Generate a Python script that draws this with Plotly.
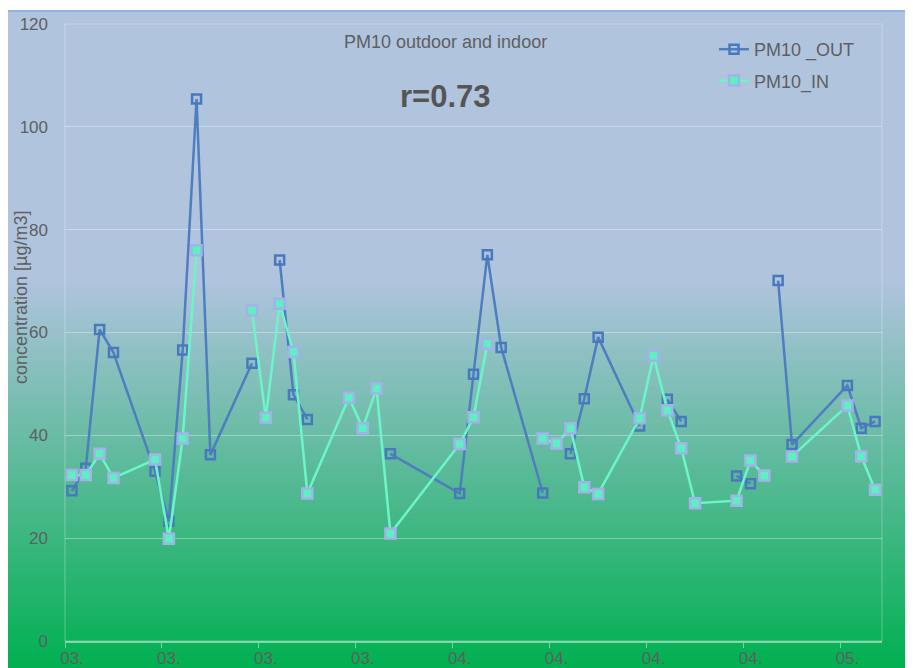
import plotly.graph_objects as go

# ---------------- data ----------------
days = [0, 1, 2, 3, 6, 7, 8, 9, 10, 13, 14, 15, 16, 17, 20, 21, 22, 23,
        28, 29, 30, 31, 34, 35, 36, 37, 38, 41, 42, 43, 44, 45, 48, 49, 50,
        51, 52, 56, 57, 58]
pm10_out = [29.2, 33.6, 60.6, 56.1, 33.0, 23.3, 56.6, 105.4, 36.2, 54.0,
            None, 74.1, 47.9, 43.1, None, None, None, 36.4,
            28.7, 51.9, 75.1, 57.1, 28.8, None, 36.4, 47.1, 59.1,
            41.8, None, 47.0, 42.7, None, 32.1, 30.6, None,
            70.1, 38.2, 49.7, 41.4, 42.7]
pm10_in = [32.3, 32.3, 36.4, 31.7, 35.3, 19.9, 39.4, 76.0, None, 64.3,
           43.4, 65.6, 56.2, 28.7, 47.3, 41.4, 49.1, 20.9,
           38.3, 43.5, 57.8, None, 39.4, 38.4, 41.4, 29.9, 28.6,
           43.3, 55.5, 44.9, 37.5, 26.8, 27.3, 35.1, 32.2,
           None, 35.9, 45.8, 35.9, 29.4]
tick_positions = [-0.5, 6.5, 13.5, 20.5, 27.5, 34.5, 41.5, 48.5, 55.5]
tick_labels = ["03.", "03.", "03.", "03.", "04.", "04.", "04.", "04.", "05."]
series_names = ["PM10 _OUT", "PM10_IN"]
chart_title = "PM10 outdoor and indoor"
r_text = "r=0.73"
y_title = "concentration [µg/m3]"

# ---------------- layout geometry ----------------
W, H = 913, 668
OFF = 8  # page body margin offset in the screenshot
# plot area in screenshot pixels
L, R, T, B = 65, 882, 24, 641
pw, ph = R - L, B - T


def px_x(p):
    return (p - L) / pw


def px_y(p):
    return (B - p) / ph


FONT = "Arial, Liberation Sans, sans-serif"
GRAY = "#5f5f5f"

# gradient background (blue-grey top to green bottom)
top_c = (176, 196, 222)
bot_c = (0, 176, 80)
g_start, g_end = 280, 668
shapes = []
step = 2
for yy in range(11, 680, step):
    f = min(max((yy + step / 2 - g_start) / (g_end - g_start), 0), 1)
    c = tuple(round(top_c[i] + (bot_c[i] - top_c[i]) * f) for i in range(3))
    shapes.append(dict(type="rect", xref="paper", yref="paper", layer="below",
                       x0=px_x(6), x1=px_x(W + 20),
                       y0=px_y(yy + step + 2), y1=px_y(yy),
                       fillcolor="rgb(%d,%d,%d)" % c, line=dict(width=0)))
# outer chart border
shapes.append(dict(type="rect", xref="paper", yref="paper", layer="below",
                   x0=px_x(6), x1=px_x(W + 20), y0=px_y(H + 20), y1=px_y(11),
                   fillcolor="rgba(0,0,0,0)", line=dict(color="#8db4e2", width=2)))
# plot area border
shapes.append(dict(type="rect", xref="paper", yref="paper", layer="below",
                   x0=0, x1=1, y0=0, y1=1, fillcolor="rgba(0,0,0,0)",
                   line=dict(color="rgba(255,255,255,0.3)", width=1)))

fig = go.Figure()
fig.add_trace(go.Scatter(
    x=days, y=pm10_out, name=series_names[0], mode="lines+markers",
    connectgaps=False, legendgroup="a",
    line=dict(color="#4f7ec0", width=2.5),
    marker=dict(symbol="square-open", size=9, color="#4a78bd",
                line=dict(color="#4a78bd", width=2.5)),
))
fig.add_trace(go.Scatter(
    x=days, y=pm10_in, name=series_names[1], mode="lines+markers",
    connectgaps=False, legendgroup="b",
    line=dict(color="#6cf5c8", width=2.5),
    marker=dict(symbol="square", size=10, color="#5cf2bf",
                line=dict(color="#a2b2ea", width=2.5)),
))

fig.update_layout(
    width=W, height=H,
    margin=dict(l=L - OFF, r=W - (R - OFF), t=T - OFF, b=H - (B - OFF), pad=0,
                autoexpand=False),
    paper_bgcolor="white", plot_bgcolor="rgba(0,0,0,0)",
    font=dict(family=FONT, color=GRAY, size=17),
    shapes=shapes,
    showlegend=True,
    legend=dict(x=px_x(714), y=px_y(31), xanchor="left", yanchor="top",
                bgcolor="rgba(0,0,0,0)", font=dict(size=18, color=GRAY),
                tracegroupgap=5, itemwidth=30),
    xaxis=dict(range=[-0.5, 58.5], tickmode="array", tickvals=tick_positions,
               ticktext=tick_labels, ticks="outside", ticklen=5,
               tickcolor="rgba(255,255,255,0.45)", showgrid=False,
               zeroline=False, showline=True,
               linecolor="rgba(255,255,255,0.45)", linewidth=1.5,
               ticklabelshift=7, ticklabelstandoff=-4,
               tickfont=dict(size=17, color=GRAY)),
    yaxis=dict(range=[0, 120], dtick=20, showgrid=True,
               gridcolor="rgba(255,255,255,0.35)", gridwidth=1,
               zeroline=False, showline=False, ticks="",
               ticklabelstandoff=16, tickfont=dict(size=17, color=GRAY)),
    annotations=[
        dict(text=chart_title, xref="paper", yref="paper", x=px_x(445),
             y=px_y(42), xanchor="center", yanchor="middle", showarrow=False,
             font=dict(size=18, color=GRAY, family=FONT)),
        dict(text="<b>%s</b>" % r_text, xref="paper", yref="paper",
             x=px_x(445), y=px_y(96), xanchor="center", yanchor="middle",
             showarrow=False, font=dict(size=31, color="#555555", family=FONT)),
        dict(text=y_title, xref="paper", yref="paper", x=px_x(21),
             y=px_y(298), xanchor="center", yanchor="middle", textangle=-90,
             showarrow=False, font=dict(size=18, color=GRAY, family=FONT)),
    ],
)

fig.write_html("out.html")
